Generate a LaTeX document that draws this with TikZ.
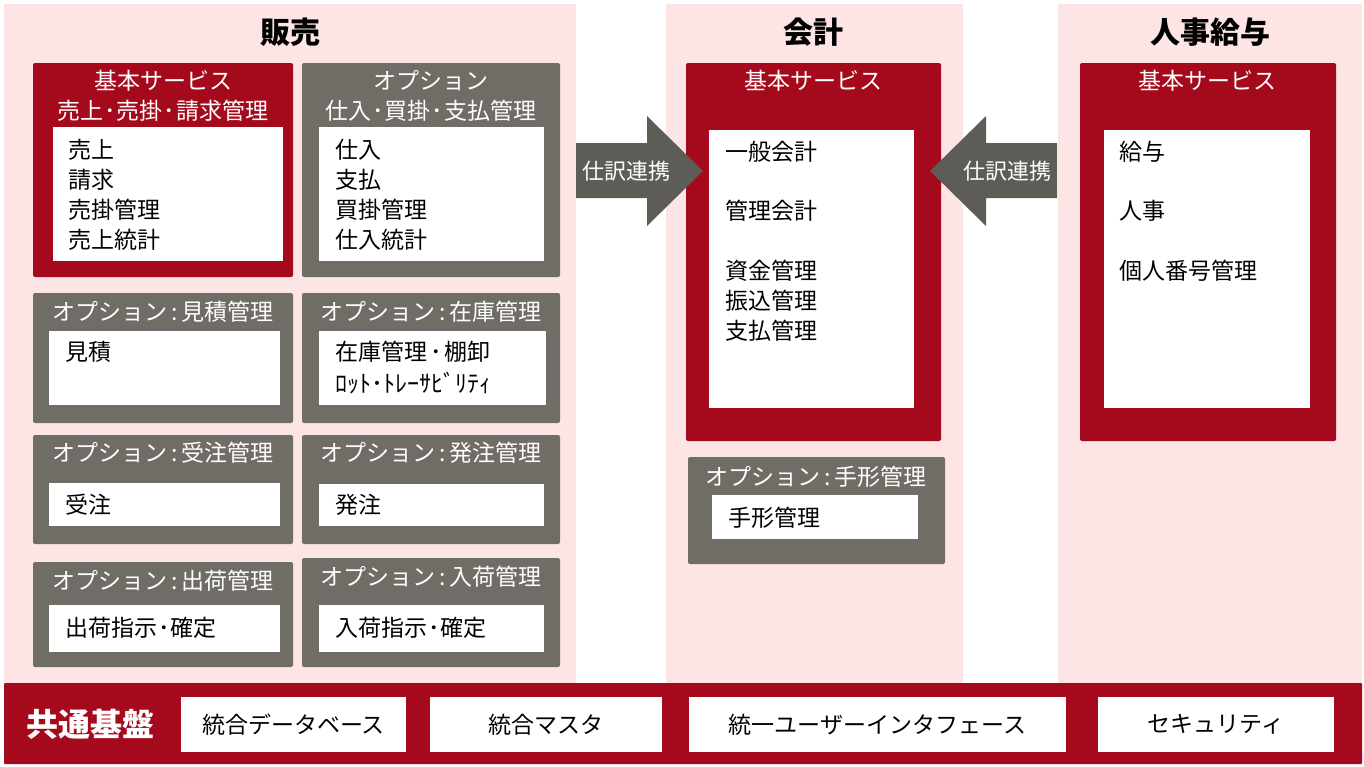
\documentclass[tikz,border=0pt]{standalone}
\usepackage{fontspec}
\setmainfont{Noto Sans CJK JP}
\definecolor{cred}{HTML}{A50A1C}
\definecolor{cgray}{HTML}{706D66}
\definecolor{carrow}{HTML}{5E5C56}
\definecolor{cpink}{HTML}{FDE5E5}
\tikzset{
  panel/.style={fill=cpink, inner sep=0pt, outer sep=0pt, anchor=north west},
  redbox/.style={fill=cred, rounded corners=2pt, inner sep=0pt, outer sep=0pt, anchor=north west},
  graybox/.style={fill=cgray, rounded corners=2pt, inner sep=0pt, outer sep=0pt, anchor=north west},
  wbox/.style={fill=white, inner sep=0pt, outer sep=0pt, anchor=north west},
  head/.style={font=\fontsize{30}{34}\selectfont\bfseries, inner sep=0pt},
  ttl/.style={text=white, font=\fontsize{23}{28}\selectfont, inner sep=0pt},
  txt/.style={font=\fontsize{23}{26}\selectfont, anchor=west, inner sep=0pt},
  small/.style={font=\fontsize{24}{26}\selectfont, anchor=west, inner sep=0pt},
  btxt/.style={font=\fontsize{23}{26}\selectfont, inner sep=0pt},
  arrowshape/.style={fill=carrow},
}
\newcommand{\opt}[1]{オプション\,:\,#1}
\newcommand{\hdot}{\kern1pt･\kern1pt}
\begin{document}
\begin{tikzpicture}[x=1pt,y=-1pt]
\useasboundingbox (0,0) rectangle (1364,766);
% panels
\node[panel, minimum width=572pt, minimum height=679pt] (p1) at (4,4) {};
\node[panel, minimum width=297pt, minimum height=679pt] (p2) at (666,4) {};
\node[panel, minimum width=304pt, minimum height=679pt] (p3) at (1058,4) {};
\node[head] (h1) at (290,32) {販売};
\node[head] (h2) at (813,32) {会計};
\node[head] (h3) at (1210,32) {人事給与};

% ---- sales column
\node[redbox, minimum width=260pt, minimum height=214pt] (A) at (33,63) {};
\node[wbox, minimum width=230pt, minimum height=134pt] (Aw) at (53,127) {};
\node[ttl] (At1) at (163,81) {基本サービス};
\node[ttl] (At2) at (163,111) {売上\hdot 売掛\hdot 請求管理};
\node[txt] (A1) at (68,150) {売上};
\node[txt] (A2) at (68,180) {請求};
\node[txt] (A3) at (68,210) {売掛管理};
\node[txt] (A4) at (68,240) {売上統計};

\node[graybox, minimum width=258pt, minimum height=214pt] (B) at (302,63) {};
\node[wbox, minimum width=225pt, minimum height=134pt] (Bw) at (319,127) {};
\node[ttl] (Bt1) at (431,81) {オプション};
\node[ttl] (Bt2) at (431,111) {仕入\hdot 買掛\hdot 支払管理};
\node[txt] (B1) at (335,150) {仕入};
\node[txt] (B2) at (335,180) {支払};
\node[txt] (B3) at (335,210) {買掛管理};
\node[txt] (B4) at (335,240) {仕入統計};

\node[graybox, minimum width=260pt, minimum height=130pt] (C) at (33,293) {};
\node[wbox, minimum width=231pt, minimum height=74pt] (Cw) at (49,331) {};
\node[ttl] (Ct) at (163,312) {\opt{見積管理}};
\node[txt] (C1) at (65,352) {見積};

\node[graybox, minimum width=258pt, minimum height=130pt] (D) at (302,293) {};
\node[wbox, minimum width=227pt, minimum height=74pt] (Dw) at (319,331) {};
\node[ttl] (Dt) at (431,312) {\opt{在庫管理}};
\node[txt] (D1) at (335,352) {在庫管理\kern3pt･\kern3pt 棚卸};
\node[small] (D2) at (335,383) {ﾛｯﾄ･ﾄﾚｰｻﾋﾞﾘﾃｨ};

\node[graybox, minimum width=260pt, minimum height=109pt] (E) at (33,435) {};
\node[wbox, minimum width=231pt, minimum height=43pt] (Ew) at (49,483) {};
\node[ttl] (Et) at (163,453) {\opt{受注管理}};
\node[txt] (E1) at (65,505) {受注};

\node[graybox, minimum width=258pt, minimum height=109pt] (F) at (302,435) {};
\node[wbox, minimum width=225pt, minimum height=42pt] (Fw) at (319,484) {};
\node[ttl] (Ft) at (431,453) {\opt{発注管理}};
\node[txt] (F1) at (335,505) {発注};

\node[graybox, minimum width=260pt, minimum height=105pt] (G) at (33,562) {};
\node[wbox, minimum width=231pt, minimum height=47pt] (Gw) at (49,605) {};
\node[ttl] (Gt) at (163,581) {\opt{出荷管理}};
\node[txt] (G1) at (65,628) {出荷指示\hdot 確定};

\node[graybox, minimum width=258pt, minimum height=109pt] (H) at (302,558) {};
\node[wbox, minimum width=225pt, minimum height=47pt] (Hw) at (319,605) {};
\node[ttl] (Ht) at (431,577) {\opt{入荷管理}};
\node[txt] (H1) at (335,628) {入荷指示\hdot 確定};

% ---- accounting
\node[redbox, minimum width=255pt, minimum height=378pt] (K) at (686,63) {};
\node[wbox, minimum width=205pt, minimum height=278pt] (Kw) at (709,130) {};
\node[ttl] (Kt) at (813,81) {基本サービス};
\node[txt] (K1) at (725,152) {一般会計};
\node[txt] (K2) at (725,211) {管理会計};
\node[txt] (K3) at (725,271) {資金管理};
\node[txt] (K4) at (725,301) {振込管理};
\node[txt] (K5) at (725,331) {支払管理};

\node[graybox, minimum width=257pt, minimum height=107pt] (L) at (688,457) {};
\node[wbox, minimum width=206pt, minimum height=44pt] (Lw) at (712,495) {};
\node[ttl] (Lt) at (816,477) {\opt{手形管理}};
\node[txt] (L1) at (728,518) {手形管理};

% ---- HR
\node[redbox, minimum width=256pt, minimum height=378pt] (M) at (1080,63) {};
\node[wbox, minimum width=206pt, minimum height=278pt] (Mw) at (1104,130) {};
\node[ttl] (Mt) at (1207,81) {基本サービス};
\node[txt] (M1) at (1119,152) {給与};
\node[txt] (M2) at (1119,211) {人事};
\node[txt] (M3) at (1119,271) {個人番号管理};

% ---- arrows
\fill[arrowshape] (576,143) -- (647,143) -- (647,116) -- (703,171) -- (647,226) -- (647,198) -- (576,198) -- cycle;
\node[ttl, font=\fontsize{22}{26}\selectfont] (ar1) at (626,171) {仕訳連携};
\fill[arrowshape] (1057,143) -- (986,143) -- (986,116) -- (930,171) -- (986,226) -- (986,198) -- (1057,198) -- cycle;
\node[ttl, font=\fontsize{22}{26}\selectfont] (ar2) at (1007,171) {仕訳連携};

% ---- common platform
\node[redbox, rounded corners=1pt, minimum width=1358pt, minimum height=81pt] (base) at (4,683) {};
\node[text=white, font=\fontsize{32}{36}\selectfont\bfseries, inner sep=0pt] (baset) at (90,724) {共通基盤};
\node[wbox, minimum width=225pt, minimum height=55pt] (b1) at (181,697) {};
\node[btxt] (b1t) at (b1.center) {統合データベース};
\node[wbox, minimum width=232pt, minimum height=55pt] (b2) at (430,697) {};
\node[btxt] (b2t) at (b2.center) {統合マスタ};
\node[wbox, minimum width=377pt, minimum height=55pt] (b3) at (689,697) {};
\node[btxt] (b3t) at (b3.center) {統一ユーザーインタフェース};
\node[wbox, minimum width=236pt, minimum height=55pt] (b4) at (1098,697) {};
\node[btxt] (b4t) at (b4.center) {セキュリティ};
\end{tikzpicture}
\end{document}
